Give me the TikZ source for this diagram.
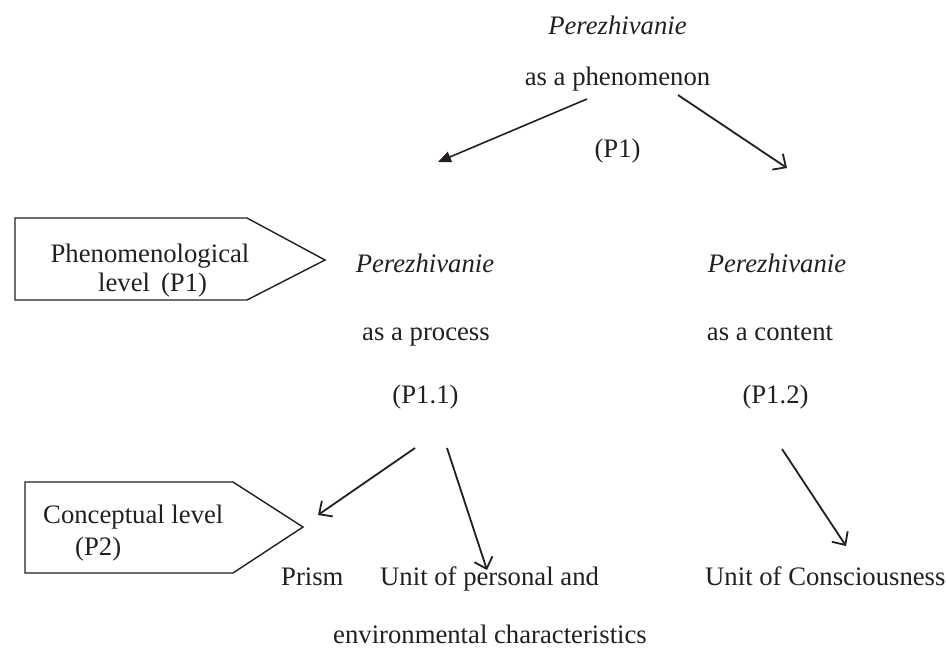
\documentclass[tikz,border=0pt]{standalone}
\usepackage{fontspec}
\setmainfont{Liberation Serif}
\usetikzlibrary{arrows.meta}
\definecolor{ink}{HTML}{231F20}
\begin{document}
\begin{tikzpicture}[x=1pt,y=-1pt,
  font=\fontsize{26.7}{30}\selectfont,
  lbl/.style={anchor=base,inner sep=0pt,text=ink},
  lblw/.style={anchor=base west,inner sep=0pt,text=ink},
  conn/.style={draw=ink,line width=1.8pt,-{Straight Barb[length=10pt,width=19pt,line width=1.8pt]}},
  connfill/.style={draw=ink,line width=1.6pt,-{Triangle[length=13pt,width=11pt]}},
  levelbox/.style={draw=ink,line width=1.4pt,line join=miter}]
\useasboundingbox (0,0) rectangle (946,649);

% top concept
\node[lbl] (topA) at (617.5,34) {\textit{Perezhivanie}};
\node[lbl] (topB) at (617.5,85) {as a phenomenon};
\node[lbl] (topC) at (617.5,157) {(P1)};

% left branch: process
\node[lbl] (procA) at (425,272) {\textit{Perezhivanie}};
\node[lbl] (procB) at (426,340) {as a process};
\node[lbl] (procC) at (425.5,403) {(P1.1)};

% right branch: content
\node[lbl] (contA) at (777,272) {\textit{Perezhivanie}};
\node[lbl] (contB) at (770,340) {as a content};
\node[lbl] (contC) at (775.5,403) {(P1.2)};

% level markers
\draw[levelbox] (15,218) -- (247,218) -- (325,260) -- (247,300) -- (15,300) -- cycle;
\node[lbl] (phenA) at (150,262) {Phenomenological};
\node[lblw] (phenB) at (98,291) {level\hspace{11pt}(P1)};

\draw[levelbox] (25,482) -- (233,482) -- (303,527) -- (233,573) -- (25,573) -- cycle;
\node[lblw] (concA) at (43,523) {Conceptual level};
\node[lblw] (concB) at (75,555) {(P2)};

% bottom concepts
\node[lblw] (prism) at (281,585) {Prism};
\node[lblw] (unitA) at (380,585) {Unit of personal and};
\node[lblw] (unitB) at (333,643) {environmental characteristics};
\node[lblw] (cons) at (705,585) {Unit of Consciousness};

% connector end points
\coordinate (a1s) at (587,99);   \coordinate (a1e) at (438,162);
\coordinate (a2s) at (678,95);   \coordinate (a2e) at (787,168);
\coordinate (a3s) at (415,448);  \coordinate (a3e) at (318,515);
\coordinate (a4s) at (447,448);  \coordinate (a4e) at (487,570);
\coordinate (a5s) at (782,449);  \coordinate (a5e) at (846,546);

\draw[connfill] (a1s) -- (a1e);
\draw[conn] (a2s) -- (a2e);
\draw[conn] (a3s) -- (a3e);
\draw[conn] (a4s) -- (a4e);
\draw[conn] (a5s) -- (a5e);
\end{tikzpicture}
\end{document}
